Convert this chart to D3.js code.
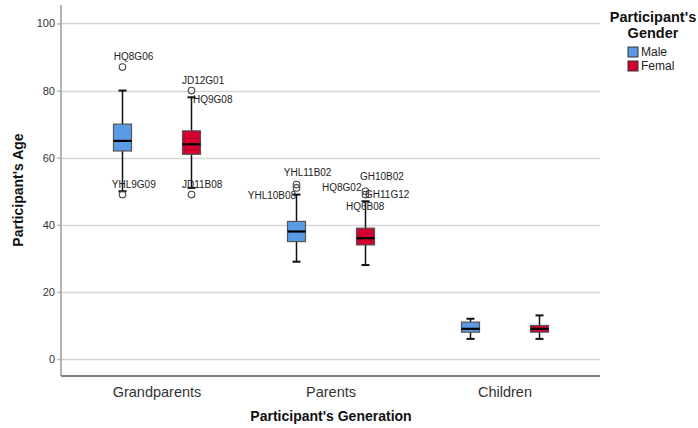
<!DOCTYPE html>
<html>
<head>
<meta charset="utf-8">
<script src="https://cdn.jsdelivr.net/npm/d3@7"></script>
<style>
  html, body { margin: 0; padding: 0; background: #fff; }
  svg { display: block; font-family: "Liberation Sans", Arial, sans-serif; }
</style>
</head>
<body>
<svg id="chart" width="698" height="428"></svg>
<script>
// ---- data ----
const generations = ["Grandparents", "Parents", "Children"];
const genders = ["Male", "Femal"];
const yTicks = [0, 20, 40, 60, 80, 100];

// box statistics per generation x gender
const boxGen    = ["Grandparents","Grandparents","Parents","Parents","Children","Children"];
const boxGender = ["Male","Femal","Male","Femal","Male","Femal"];
const whiskLow  = [50, 51, 29, 28, 6, 6];
const q1        = [62, 61, 35, 34, 8, 8];
const median    = [65, 64, 38, 36, 9, 9];
const q3        = [70, 68, 41, 39, 11, 10];
const whiskHigh = [80, 78, 49, 47, 12, 13];

// outlier circles
const outGen    = ["Grandparents","Grandparents","Grandparents","Grandparents","Parents","Parents","Parents","Parents"];
const outGender = ["Male","Male","Femal","Femal","Male","Male","Femal","Femal"];
const outValue  = [87, 49, 80, 49, 52, 51, 50, 49];

// case labels
const labText   = ["HQ8G06","YHL9G09","JD12G01","HQ9G08","JD11B08","YHL11B02","YHL10B08","GH10B02","HQ8G02","GH11G12","HQ6B08"];
const labGen    = ["Grandparents","Grandparents","Grandparents","Grandparents","Grandparents","Parents","Parents","Parents","Parents","Parents","Parents"];
const labGender = ["Male","Male","Femal","Femal","Femal","Male","Male","Femal","Femal","Femal","Femal"];
const labValue  = [87, 49, 80, 78, 49, 52, 49, 50, 49, 49, 49];

// ---- layout ----
const svg = d3.select("#chart");
const plot = {left: 61, right: 600, top: 5, bottom: 376};
const colors = {Male: "#5b9be6", Femal: "#d2002e"};

const y = d3.scaleLinear().domain([-5.06, 105.5]).range([plot.bottom, plot.top]);
const x = d3.scaleBand().domain(generations).range([70, 592]).padding(0);
const xg = d3.scalePoint().domain(genders).range([x.bandwidth()/2 - 34.5, x.bandwidth()/2 + 34.5]);
const cx = (g, s) => x(g) + xg(s);

// gridlines
svg.append("g").selectAll("line").data(yTicks).join("line")
  .attr("x1", plot.left).attr("x2", plot.right)
  .attr("y1", d => Math.round(y(d)) + 0.5).attr("y2", d => Math.round(y(d)) + 0.5)
  .attr("stroke", "#d6d6d6").attr("stroke-width", 1.5);

// y axis
const yAxis = svg.append("g").attr("transform", `translate(${plot.left},0)`)
  .call(d3.axisLeft(y).tickValues(yTicks).tickSize(4).tickPadding(2));
yAxis.select(".domain").remove();
yAxis.selectAll(".tick line").attr("stroke", "#bdbdbd").attr("stroke-width", 1.5);
yAxis.selectAll(".tick text").attr("font-size", 11).attr("fill", "#333")
  .attr("font-family", "'Liberation Sans', Arial, sans-serif");

svg.append("line").attr("x1", plot.left).attr("x2", plot.left)
  .attr("y1", plot.top).attr("y2", plot.bottom)
  .attr("stroke", "#9a9a9a").attr("stroke-width", 1.5);

// x axis
const xAxis = svg.append("g").attr("transform", `translate(0,${plot.bottom})`)
  .call(d3.axisBottom(x).tickSize(0).tickPadding(11));
xAxis.select(".domain").remove();
xAxis.selectAll(".tick text").attr("font-size", 14.5).attr("fill", "#333")
  .attr("font-family", "'Liberation Sans', Arial, sans-serif");
svg.append("line").attr("x1", plot.left).attr("x2", plot.right)
  .attr("y1", plot.bottom).attr("y2", plot.bottom)
  .attr("stroke", "#555").attr("stroke-width", 1.5);

// boxes
const boxW = 18, capW = 8;
const boxes = boxGen.map((g, i) => ({g, s: boxGender[i], lo: whiskLow[i], q1: q1[i], med: median[i], q3: q3[i], hi: whiskHigh[i]}));
const bg = svg.append("g").selectAll("g").data(boxes).join("g");
bg.append("line").attr("x1", d => cx(d.g, d.s)).attr("x2", d => cx(d.g, d.s))
  .attr("y1", d => y(d.hi)).attr("y2", d => y(d.q3)).attr("stroke", "#111").attr("stroke-width", 1.5);
bg.append("line").attr("x1", d => cx(d.g, d.s)).attr("x2", d => cx(d.g, d.s))
  .attr("y1", d => y(d.q1)).attr("y2", d => y(d.lo)).attr("stroke", "#111").attr("stroke-width", 1.5);
bg.append("line").attr("x1", d => cx(d.g, d.s) - capW/2).attr("x2", d => cx(d.g, d.s) + capW/2)
  .attr("y1", d => y(d.hi)).attr("y2", d => y(d.hi)).attr("stroke", "#111").attr("stroke-width", 2);
bg.append("line").attr("x1", d => cx(d.g, d.s) - capW/2).attr("x2", d => cx(d.g, d.s) + capW/2)
  .attr("y1", d => y(d.lo)).attr("y2", d => y(d.lo)).attr("stroke", "#111").attr("stroke-width", 2);
bg.append("rect").attr("x", d => cx(d.g, d.s) - boxW/2).attr("width", boxW)
  .attr("y", d => y(d.q3)).attr("height", d => y(d.q1) - y(d.q3))
  .attr("fill", d => colors[d.s]).attr("stroke", "#555").attr("stroke-width", 1.2);
bg.append("line").attr("x1", d => cx(d.g, d.s) - boxW/2).attr("x2", d => cx(d.g, d.s) + boxW/2)
  .attr("y1", d => y(d.med)).attr("y2", d => y(d.med)).attr("stroke", "#000").attr("stroke-width", 2.2);

// outliers
const outs = outGen.map((g, i) => ({g, s: outGender[i], v: outValue[i]}));
svg.append("g").selectAll("circle").data(outs).join("circle")
  .attr("cx", d => cx(d.g, d.s)).attr("cy", d => y(d.v)).attr("r", 3.3)
  .attr("fill", "none").attr("stroke", "#444").attr("stroke-width", 1.1);

// labels (pixel offsets relative to the labelled case)
const labOffset = [[-8.7,-11],[-10.7,-10.5],[-9.5,-10.4],[1.5,2],[-9.5,-10.5],[-12.7,-12],[-48.7,0.5],[-5.5,-15],[-43.5,-7.5],[-0.5,-0.5],[-19.5,12]];
const labs = labText.map((t, i) => ({t, g: labGen[i], s: labGender[i], v: labValue[i], o: labOffset[i]}));
svg.append("g").selectAll("text").data(labs).join("text")
  .attr("x", d => cx(d.g, d.s) + d.o[0]).attr("y", d => y(d.v) + d.o[1])
  .attr("dy", "0.35em").attr("font-size", 10).attr("fill", "#222").text(d => d.t);

// axis titles
svg.append("text").attr("transform", "translate(23,190) rotate(-90)")
  .attr("text-anchor", "middle").attr("font-size", 14).attr("font-weight", "bold").attr("fill", "#111")
  .text("Participant's Age");
svg.append("text").attr("x", 331).attr("y", 421).attr("text-anchor", "middle")
  .attr("font-size", 14).attr("font-weight", "bold").attr("fill", "#111")
  .text("Participant's Generation");

// legend
const lg = svg.append("g");
lg.append("text").attr("x", 653).attr("y", 22).attr("text-anchor", "middle")
  .attr("font-size", 14.5).attr("font-weight", "bold").attr("fill", "#111").text("Participant's");
lg.append("text").attr("x", 653).attr("y", 38).attr("text-anchor", "middle")
  .attr("font-size", 14.5).attr("font-weight", "bold").attr("fill", "#111").text("Gender");
const li = lg.selectAll("g.item").data(genders).join("g").attr("class", "item")
  .attr("transform", (d, i) => `translate(628,${47 + i * 14})`);
li.append("rect").attr("width", 10).attr("height", 10).attr("fill", d => colors[d])
  .attr("stroke", "#333").attr("stroke-width", 1);
li.append("text").attr("x", 13).attr("y", 5).attr("dy", "0.36em")
  .attr("font-size", 12).attr("fill", "#222").text(d => d);
</script>
</body>
</html>
